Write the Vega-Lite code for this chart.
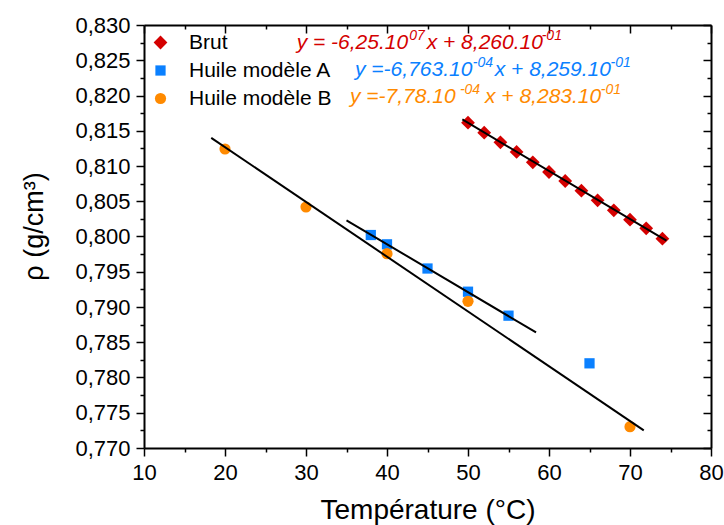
{
  "$schema": "https://vega.github.io/schema/vega-lite/v6.json",
  "autosize": "none",
  "width": 567,
  "height": 423,
  "padding": {"left": 144, "top": 25, "right": 13, "bottom": 77},
  "background": "white",
  "config": {
    "font": "Liberation Sans",
    "view": {"stroke": null},
    "axis": {"grid": false, "domainColor": "black", "domainWidth": 2, "tickColor": "black", "tickWidth": 1.5, "labelColor": "black", "titleColor": "black", "labelFont": "Liberation Sans", "titleFont": "Liberation Sans", "titleFontWeight": "normal"}
  },
  "datasets": {
    "points": [
      {"T": 50, "rho": 0.81614, "series": "Brut"},
      {"T": 52, "rho": 0.81472, "series": "Brut"},
      {"T": 54, "rho": 0.81336, "series": "Brut"},
      {"T": 56, "rho": 0.81199, "series": "Brut"},
      {"T": 58, "rho": 0.81052, "series": "Brut"},
      {"T": 60, "rho": 0.80915, "series": "Brut"},
      {"T": 62, "rho": 0.80787, "series": "Brut"},
      {"T": 64, "rho": 0.8065, "series": "Brut"},
      {"T": 66, "rho": 0.80513, "series": "Brut"},
      {"T": 68, "rho": 0.80372, "series": "Brut"},
      {"T": 70, "rho": 0.80238, "series": "Brut"},
      {"T": 72, "rho": 0.80116, "series": "Brut"},
      {"T": 74, "rho": 0.79969, "series": "Brut"},
      {"T": 38, "rho": 0.80021, "series": "Huile modèle A"},
      {"T": 40, "rho": 0.79889, "series": "Huile modèle A"},
      {"T": 45, "rho": 0.79546, "series": "Huile modèle A"},
      {"T": 50, "rho": 0.79217, "series": "Huile modèle A"},
      {"T": 55, "rho": 0.78877, "series": "Huile modèle A"},
      {"T": 65, "rho": 0.78201, "series": "Huile modèle A"},
      {"T": 20, "rho": 0.81241, "series": "Huile modèle B"},
      {"T": 30, "rho": 0.80418, "series": "Huile modèle B"},
      {"T": 40, "rho": 0.79756, "series": "Huile modèle B"},
      {"T": 50, "rho": 0.79081, "series": "Huile modèle B"},
      {"T": 70, "rho": 0.77302, "series": "Huile modèle B"}
    ],
    "fits": [
      {"T": 49.3, "rho": 0.8166, "series": "Brut"},
      {"T": 74.5, "rho": 0.7994, "series": "Brut"},
      {"T": 35.0, "rho": 0.8023, "series": "Huile modèle A"},
      {"T": 58.4, "rho": 0.7864, "series": "Huile modèle A"},
      {"T": 18.3, "rho": 0.8140, "series": "Huile modèle B"},
      {"T": 71.7, "rho": 0.7725, "series": "Huile modèle B"}
    ],
    "eqbase": [
      {"T": 28.85, "rho": 0.8274, "series": "Brut", "label": "y = -6,25.10"},
      {"T": 44.9, "rho": 0.8274, "series": "Brut", "label": "x + 8,260.10"},
      {"T": 36.05, "rho": 0.8236, "series": "Huile modèle A", "label": "y =-6,763.10"},
      {"T": 53.3, "rho": 0.8236, "series": "Huile modèle A", "label": "x + 8,259.10"},
      {"T": 35.43, "rho": 0.8198, "series": "Huile modèle B", "label": "y =-7,78.10"},
      {"T": 52.1, "rho": 0.8198, "series": "Huile modèle B", "label": "x + 8,283.10"}
    ],
    "eqsup": [
      {"T": 42.75, "rho": 0.8274, "series": "Brut", "label": "07"},
      {"T": 59.1, "rho": 0.8274, "series": "Brut", "label": "-01"},
      {"T": 50.6, "rho": 0.8236, "series": "Huile modèle A", "label": "-04"},
      {"T": 67.6, "rho": 0.8236, "series": "Huile modèle A", "label": "-01"},
      {"T": 49.0, "rho": 0.8198, "series": "Huile modèle B", "label": "-04"},
      {"T": 66.4, "rho": 0.8198, "series": "Huile modèle B", "label": "-01"}
    ]
  },
  "resolve": {"axis": {"x": "independent", "y": "independent"}},
  "layer": [
    {
      "data": {"name": "points"},
      "mark": {"type": "point", "filled": true, "opacity": 1},
      "encoding": {
        "x": {"field": "T", "type": "quantitative", "scale": {"domain": [10, 80], "nice": false, "zero": false},
          "axis": {"orient": "bottom", "title": "Température (°C)", "titleFontSize": 28, "titleY": 70, "titleBaseline": "alphabetic",
            "values": [10, 15, 20, 25, 30, 35, 40, 45, 50, 55, 60, 65, 70, 75, 80],
            "labelExpr": "datum.value % 10 == 0 ? datum.label : ''", "labelFontSize": 22, "labelPadding": 6, "labelFlush": false, "labelOverlap": false,
            "tickSize": {"condition": {"test": "datum.value % 10 == 0", "value": 8}, "value": 4}}},
        "y": {"field": "rho", "type": "quantitative", "scale": {"domain": [0.77, 0.83], "nice": false, "zero": false},
          "axis": {"orient": "left", "title": "ρ (g/cm³)", "titleFontSize": 27, "titleX": -110, "titleBaseline": "middle", "titleY": 201,
            "values": [0.77, 0.7725, 0.775, 0.7775, 0.78, 0.7825, 0.785, 0.7875, 0.79, 0.7925, 0.795, 0.7975, 0.8, 0.8025, 0.805, 0.8075, 0.81, 0.8125, 0.815, 0.8175, 0.82, 0.8225, 0.825, 0.8275, 0.83],
            "labelExpr": "round(datum.value*10000) % 50 == 0 ? replace(format(datum.value, '.3f'), '.', ',') : ''", "labelFontSize": 22, "labelPadding": 6, "labelFlush": false, "labelOverlap": false,
            "tickSize": {"condition": {"test": "round(datum.value*10000) % 50 == 0", "value": 8}, "value": 4}}},
        "color": {"field": "series", "type": "nominal",
          "scale": {"domain": ["Brut", "Huile modèle A", "Huile modèle B"], "range": ["#D40000", "#0A80FF", "#FF8A00"]},
          "legend": {"orient": "none", "legendX": 6, "legendY": 7, "title": null, "labelFontSize": 21, "labelFont": "Liberation Sans", "labelColor": "black", "labelOffset": 18, "rowPadding": 6, "symbolStrokeWidth": 0, "padding": 0}},
        "shape": {"field": "series", "type": "nominal",
          "scale": {"domain": ["Brut", "Huile modèle A", "Huile modèle B"], "range": ["diamond", "square", "circle"]}},
        "size": {"field": "series", "type": "nominal",
          "scale": {"type": "ordinal", "domain": ["Brut", "Huile modèle A", "Huile modèle B"], "range": [190, 105, 125]}}
      }
    },
    {
      "data": {"name": "fits"},
      "mark": {"type": "line", "color": "black", "strokeWidth": 2},
      "encoding": {
        "x": {"field": "T", "type": "quantitative",
          "axis": {"orient": "top", "title": null, "labels": false,
            "values": [10, 15, 20, 25, 30, 35, 40, 45, 50, 55, 60, 65, 70, 75, 80],
            "tickSize": {"condition": {"test": "datum.value % 10 == 0", "value": -8}, "value": -4}}},
        "y": {"field": "rho", "type": "quantitative",
          "axis": {"orient": "right", "title": null, "labels": false,
            "values": [0.77, 0.7725, 0.775, 0.7775, 0.78, 0.7825, 0.785, 0.7875, 0.79, 0.7925, 0.795, 0.7975, 0.8, 0.8025, 0.805, 0.8075, 0.81, 0.8125, 0.815, 0.8175, 0.82, 0.8225, 0.825, 0.8275, 0.83],
            "tickSize": {"condition": {"test": "round(datum.value*10000) % 50 == 0", "value": -8}, "value": -4}}},
        "detail": {"field": "series", "type": "nominal"}
      }
    },
    {
      "data": {"name": "eqbase"},
      "mark": {"type": "text", "align": "left", "baseline": "middle", "fontSize": 21, "fontStyle": "italic", "font": "Liberation Sans"},
      "encoding": {
        "x": {"field": "T", "type": "quantitative", "axis": null},
        "y": {"field": "rho", "type": "quantitative", "axis": null},
        "text": {"field": "label"},
        "color": {"field": "series", "type": "nominal", "legend": null}
      }
    },
    {
      "data": {"name": "eqsup"},
      "mark": {"type": "text", "align": "left", "baseline": "middle", "fontSize": 14, "fontStyle": "italic", "font": "Liberation Sans", "dy": -7},
      "encoding": {
        "x": {"field": "T", "type": "quantitative", "axis": null},
        "y": {"field": "rho", "type": "quantitative", "axis": null},
        "text": {"field": "label"},
        "color": {"field": "series", "type": "nominal", "legend": null}
      }
    }
  ]
}
